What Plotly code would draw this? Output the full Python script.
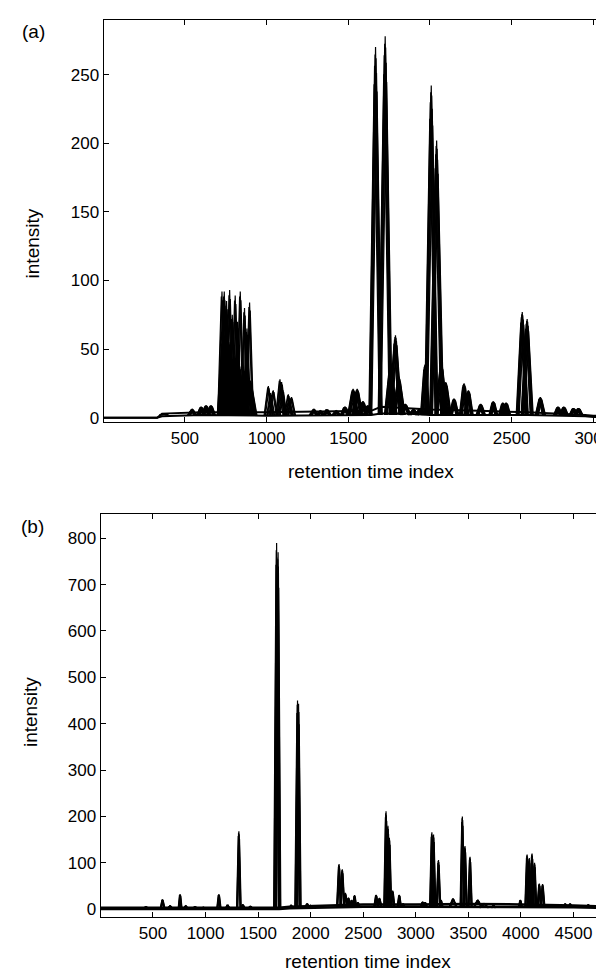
import plotly.graph_objects as go

W, H = 604, 973

# Panel (a): compound peaks present in every run
# (retention time index, apex intensity, half base width)
a_rt = [372, 545, 600, 630, 660,
        735, 750, 770, 800, 830, 860, 885, 900,
        1290, 1330, 1370, 1427, 1480,
        1530, 1555, 1590, 1620,
        1667, 1726, 1760, 1789, 1810, 1850, 1900, 1940,
        1971, 2008, 2041, 2070, 2097,
        2148, 2209, 2236, 2311, 2388, 2447, 2467,
        2565, 2595, 2676, 2784, 2820, 2879, 2910]
a_height = [3, 6, 8, 9, 9,
            60, 62, 55, 45, 40, 35, 30, 27,
            6, 5, 6, 5, 8,
            21, 21, 12, 9,
            270, 278, 40, 60, 30, 10, 6, 7,
            39, 242, 202, 40, 26,
            14, 25, 20, 10, 12, 11, 11,
            77, 72, 15, 8, 8, 7, 7]
a_halfwidth = [20, 20, 18, 18, 18,
               28, 28, 26, 25, 25, 25, 30, 32,
               20, 18, 18, 18, 20,
               25, 25, 22, 20,
               32, 34, 30, 30, 30, 25, 25, 20,
               20, 32, 34, 30, 25,
               20, 20, 20, 20, 18, 18, 18,
               28, 28, 22, 18, 18, 18, 18]
# peaks seen in a few runs only
a_one_rt = [727, 741, 755, 774, 790, 808, 822, 839, 865, 880, 896,
            1011, 1025, 1041, 1082, 1092, 1100, 1133, 1140, 1153]
a_one_height = [92, 92, 85, 93, 75, 89, 70, 92, 80, 65, 84,
                23, 18, 20, 28, 26, 20, 17, 12, 15]
a_one_halfwidth = [22, 22, 22, 20, 20, 20, 20, 20, 18, 20, 20,
                   22, 20, 22, 22, 22, 20, 20, 20, 20]
a_one_shift = [-4, 0, 4]
a_one_factor = [0.96, 1.0, 0.93]
# overlaid runs: retention shift and height factor
a_shift = [-9, -6, -3, 0, 3, 6, 9]
a_factor = [0.9, 0.95, 0.98, 1.0, 0.97, 0.93, 0.88]
a_base_x = [0, 330, 360, 600, 1000, 1500, 1640, 1700, 1850, 2000, 2300, 2600, 2950, 3000, 3096]
a_base_lo = [0, 0, 1, 2, 1.5, 2, 2, 3, 3, 2, 2, 2, 1, 0.5, 0.5]
a_base_hi = [0, 0, 3, 4, 4, 5, 5, 8, 7, 6, 5, 4, 2, 1.5, 1.5]

# Panel (b)
b_rt = [433, 591, 663, 758, 812, 900, 979, 1127, 1210, 1317, 1355, 1427, 1590,
        1676, 1690, 1815, 1875, 1885, 1967, 2000,
        2270, 2301, 2330, 2360, 2390, 2418, 2450,
        2623, 2655, 2717, 2735, 2749, 2780, 2843, 2880,
        3065, 3090, 3153, 3169, 3216, 3240, 3355,
        3443, 3468, 3516, 3590, 3650, 3740,
        3995, 4059, 4080, 4106, 4130, 4175, 4207,
        4421, 4468, 4642, 4700]
b_height = [5, 21, 7, 32, 7, 5, 4, 32, 9, 168, 10, 6, 3,
            790, 770, 8, 450, 443, 12, 8,
            97, 86, 35, 25, 20, 30, 15,
            31, 24, 211, 180, 154, 40, 31, 12,
            16, 15, 166, 161, 106, 20, 23,
            200, 136, 113, 20, 12, 8,
            20, 118, 110, 120, 100, 55, 54,
            12, 12, 10, 6]
b_halfwidth = [15, 15, 15, 12, 12, 15, 15, 14, 14, 16, 14, 14, 14,
               22, 20, 14, 20, 18, 20, 20,
               18, 18, 18, 15, 15, 15, 15,
               18, 18, 16, 16, 16, 16, 16, 15,
               18, 18, 16, 16, 16, 15, 35,
               16, 16, 15, 40, 40, 20,
               14, 16, 15, 16, 15, 16, 16,
               14, 14, 14, 14]
b_shift = [-6, -3, 0, 3, 6]
b_factor = [0.94, 0.98, 1.0, 0.96, 0.9]
b_base_x = [0, 1700, 1800, 2200, 2500, 3000, 3500, 4000, 4500, 4838]
b_base_lo = [0, 0, 2, 4, 5, 5, 5, 5, 4, 2]
b_base_hi = [3, 3, 5, 8, 10, 10, 11, 10, 8, 5]


def peak_trace(rt, height, hw, shift, factor, base, xa, ya):
    xs, ys = [], []
    for r, h, w in zip(rt, height, hw):
        xs += [r + shift - w, r + shift, r + shift + w, None]
        ys += [base, h * factor, base, None]
    return go.Scatter(x=xs, y=ys, mode='lines', xaxis=xa, yaxis=ya,
                      line=dict(color='black', width=1.2), showlegend=False,
                      hoverinfo='skip')


fig = go.Figure()
for s, f in zip(a_shift, a_factor):
    fig.add_trace(peak_trace(a_rt, a_height, a_halfwidth, s, f, 2, 'x', 'y'))
for s, f in zip(a_one_shift, a_one_factor):
    fig.add_trace(peak_trace(a_one_rt, a_one_height, a_one_halfwidth, s, f, 2, 'x', 'y'))
for yb in (a_base_lo, a_base_hi):
    fig.add_trace(go.Scatter(x=a_base_x, y=yb, mode='lines', xaxis='x', yaxis='y',
                             line=dict(color='black', width=2), showlegend=False))
for s, f in zip(b_shift, b_factor):
    fig.add_trace(peak_trace(b_rt, b_height, b_halfwidth, s, f, 3, 'x2', 'y2'))
for yb in (b_base_lo, b_base_hi):
    fig.add_trace(go.Scatter(x=b_base_x, y=yb, mode='lines', xaxis='x2', yaxis='y2',
                             line=dict(color='black', width=2.5), showlegend=False))

axis_style = dict(showline=True, linecolor='black', linewidth=1, mirror='ticks',
                  ticks='inside', ticklen=5, tickcolor='black', showgrid=False,
                  zeroline=False, ticklabeloverflow='allow',
                  tickfont=dict(family='Liberation Sans', size=17, color='black'))

fig.update_layout(
    width=W, height=H,
    margin=dict(l=0, r=0, t=0, b=0),
    paper_bgcolor='white', plot_bgcolor='white',
    xaxis=dict(axis_style, domain=[96 / W, 1], range=[2, 3096], anchor='y',
               tickvals=[500, 1000, 1500, 2000, 2500, 3000]),
    yaxis=dict(axis_style, domain=[1 - 416.7 / H, 1 - 12.3 / H], range=[-3.2, 289.6], anchor='x',
               tickvals=[0, 50, 100, 150, 200, 250]),
    xaxis2=dict(axis_style, domain=[93 / W, 1], range=[1, 4838], anchor='y2',
                tickvals=[500, 1000, 1500, 2000, 2500, 3000, 3500, 4000, 4500]),
    yaxis2=dict(axis_style, domain=[1 - 915 / H, 1 - 509.3 / H], range=[-17.8, 852], anchor='x2',
                tickvals=[0, 100, 200, 300, 400, 500, 600, 700, 800]),
)

title_font = dict(family='Liberation Sans', size=19, color='black')
labels = [
    ('(a)', 26, 24, 0, 'middle'), ('(b)', 25, 521.5, 0, 'middle'),
    ('intensity', 25, 237, -90, 'middle'), ('intensity', 22, 708.5, -90, 'middle'),
    ('retention time index', 365, 479, 0, 'bottom'), ('retention time index', 362, 972, 0, 'bottom'),
]
for text, px, py, ang, ya in labels:
    fig.add_annotation(text=text, x=px / W, y=1 - py / H, xref='paper', yref='paper',
                       showarrow=False, textangle=ang, font=title_font,
                       xanchor='center', yanchor=ya)

fig.write_html("out.html")
